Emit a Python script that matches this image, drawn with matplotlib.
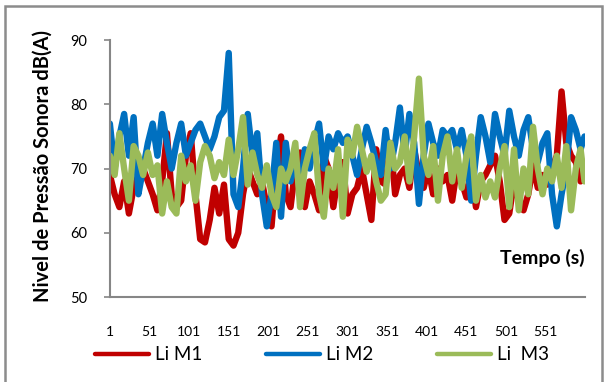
# === IMPORTS ===
import matplotlib.pyplot as plt
import matplotlib.patches as mpatches
import numpy as np

# === PARÁMETROS ===
figsize = (6.07, 3.82)
cor_m1 = "#C00000"
cor_m2 = "#0070C0"
cor_m3 = "#9BBB59"
cor_eixo = "#868686"
grosor = 4.6
plt.rcParams['font.family'] = ['Lato', 'DejaVu Sans']

# === DADOS (1 ponto a cada ~6 s) ===
tempo = np.append(np.arange(1, 596, 6), 600)

li_m1 = [69, 66, 64, 68, 63, 67, 69, 70, 68, 66, 63.5, 68, 75.5,
         66, 64, 65, 72, 75.5, 66, 59, 58.5, 62, 67, 63, 67.5, 59,
         58, 60, 66, 70, 68, 66, 68, 64, 61, 70, 75, 66,
         64, 70, 72.5, 64, 68, 66, 63.5, 72, 70, 64, 69, 71, 63,
         66, 67, 70, 66, 62, 73, 68, 67.5, 74, 66, 69, 70, 67, 73, 69, 67, 70,
         66, 70, 68, 69, 65, 70, 68, 65.5, 69, 64, 68, 69, 70.5, 72, 68, 62,
         63, 68, 65, 63.5, 66, 70.5, 67, 69, 67.5, 70, 72, 82, 74, 72, 71, 68]

li_m2 = [77, 70, 75, 78.5, 72, 78, 66, 70, 74, 77, 72, 78.5, 74,
         70, 74, 77, 72, 74, 76, 77, 75, 73, 75, 78, 79, 88,
         66, 64, 70, 78.5, 72, 75.5, 66, 61, 66, 74, 62.5, 74,
         68, 72, 66, 73, 70, 74, 77, 70, 75, 73, 75.5, 74, 75,
         72, 69, 73, 76.5, 74, 71, 69, 76, 70, 74, 79.5, 72, 78.5, 74, 64.5, 72, 77,
         74, 72, 76, 75, 76, 73, 76, 72, 65, 72, 78, 75, 71, 78.5, 75, 72,
         79, 75, 72, 76, 78, 73, 71, 74, 75.5, 66, 61, 66, 70, 78, 76, 73, 75]

li_m3 = [72, 69, 75.5, 70, 65, 73.5, 72, 69, 72.5, 69, 70.5, 63, 68,
         64, 63, 72, 68, 70.5, 65, 71, 73.5, 72, 68.5, 71, 69, 74.5,
         69, 73, 78, 67.5, 72.5, 69, 67, 70.5, 66, 64, 70, 68,
         70, 74, 64, 70, 73, 75.5, 66, 62.5, 70, 67, 73, 62.5, 74.5,
         72, 76.5, 73, 69.5, 72, 68, 65, 66, 74, 70, 71, 75, 68, 75, 84, 72, 69,
         73.5, 65, 72, 75, 68, 73, 67, 72, 75, 65, 69, 65.5, 68, 65.5, 70, 73.5,
         64, 73, 63.5, 70, 66, 76.5, 70, 66, 70, 68, 72, 67, 73.5, 63.5, 70, 73, 68]

series = [("Li M1", li_m1, cor_m1), ("Li M2", li_m2, cor_m2), ("Li  M3", li_m3, cor_m3)]
x_ticks = np.arange(1, 600, 50)

# === FIGURA ===
fig = plt.figure(figsize=figsize, dpi=100)
ax = fig.add_axes([0.181, 0.2225, 0.782, 0.6725])

for nome, vals, cor in series:
    ax.plot(tempo[:len(vals)], vals, color=cor, lw=grosor, label=nome,
            solid_joinstyle='round', solid_capstyle='round')

ax.set_xlim(1, 600)
ax.set_ylim(50, 90)
ax.set_yticks([50, 60, 70, 80, 90])
ax.set_xticks(x_ticks)
ax.tick_params(axis='y', length=4.5, width=1.2, color=cor_eixo, pad=12, labelsize=10.5)
ax.tick_params(axis='x', length=0, pad=21, labelsize=10)

for lado in ['top', 'right']:
    ax.spines[lado].set_visible(False)
for lado in ['left', 'bottom']:
    ax.spines[lado].set_color(cor_eixo)
    ax.spines[lado].set_linewidth(1.5)

ax.set_ylabel("Nivel de Pressão Sonora dB(A)", fontsize=14.5, fontweight='bold')
ax.yaxis.set_label_coords(-0.12, 0.51)
ax.text(1.0, 0.152, "Tempo (s)", transform=ax.transAxes, ha='right', va='center',
        fontsize=14, fontweight='bold')

fig.legend(loc='center', bbox_to_anchor=(0.53, 0.071), ncol=3, frameon=False,
           fontsize=13.5, handlelength=2.9, columnspacing=3.4, handletextpad=0.3)
for linha in fig.legends[0].get_lines():
    linha.set_linewidth(3.2)

# moldura cinza do gráfico (Excel)
fig.patches.append(mpatches.Rectangle((5 / 607, -0.1), 597 / 607, 1.1 - 6 / 382,
                                      transform=fig.transFigure, fill=False,
                                      edgecolor="#8C8C8C", lw=1.8))

# === RENDER ===
fig.savefig("out.png", dpi=100)
